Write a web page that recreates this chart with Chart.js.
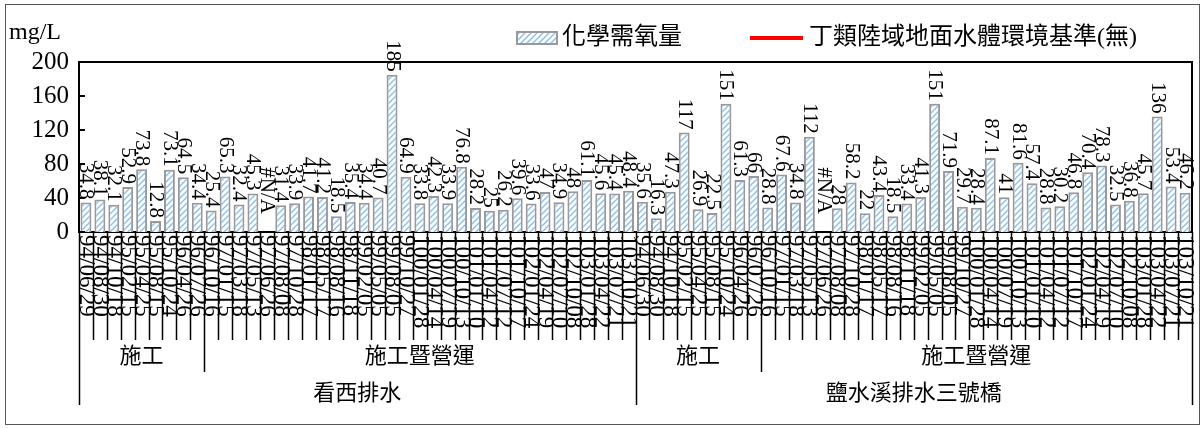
<!DOCTYPE html>
<html>
<head>
<meta charset="utf-8">
<script src="https://cdn.jsdelivr.net/npm/chart.js@4.4.0/dist/chart.umd.min.js"></script>
<style>
  html, body { margin: 0; padding: 0; background: #fff; }
</style>
</head>
<body>
<canvas id="chart" width="1204" height="428"></canvas>
<script>
// sampling dates (ROC calendar), one list per station
const datesKanxi = [
  '94/06/29', '94/08/30', '94/10/18', '95/02/15', '95/04/25', '95/08/15', '95/10/24', '96/04/26', '96/07/26',
  '96/10/16', '97/01/15', '97/03/18', '97/05/13', '97/06/26', '97/08/08', '97/10/28', '98/01/17', '98/05/17',
  '98/08/16', '98/11/18', '99/02/05', '99/05/05', '99/08/05', '99/10/27', '100/01/28', '100/04/14', '100/07/19',
  '100/10/13', '101/01/10', '101/04/12', '101/07/12', '101/10/17', '102/01/24', '102/04/19', '102/07/10',
  '102/10/08', '103/01/28', '103/04/22', '103/07/21', '103/10/21'
];
const datesYanshui = [
  '94/06/30', '94/08/30', '94/10/18', '95/02/15', '95/04/25', '95/08/15', '95/10/24', '96/04/26', '96/07/26',
  '96/10/16', '97/01/15', '97/03/18', '97/05/13', '97/06/26', '97/08/08', '97/10/28', '98/01/17', '98/05/17',
  '98/08/16', '98/11/18', '99/02/05', '99/05/05', '99/08/05', '99/10/27', '100/01/28', '100/04/14', '100/07/19',
  '100/10/13', '101/01/10', '101/04/12', '101/07/12', '101/10/17', '102/01/24', '102/04/19', '102/07/10',
  '102/10/08', '103/01/28', '103/04/22', '103/07/21', '103/10/21'
];
const sites = ['看西排水', '鹽水溪排水三號橋'];
const phases = ['施工', '施工暨營運'];
const phaseCounts = [9, 31];

// COD (mg/L), null = #N/A
const codKanxi = [
  34.8, 38.1, 32.1, 52.9, 73.8, 12.8, 73.1, 64.5, 34.4,
  25.4, 65.3, 32.4, 45.3, null, 31.4, 33.9, 41.7, 41.2, 18.5, 35.4, 34.4, 40.7, 185, 64.9, 33.8,
  42.3, 33.9, 76.8, 28.2, 25, 26.2, 39.6, 33.6, 47, 34.9, 48, 61.1, 45.6, 45.4, 48.4
];
const codYanshui = [
  35.6, 16.3, 47.3, 117, 26.9, 22.5, 151, 61.3, 66,
  28.8, 67.6, 34.8, 112, null, 28, 58.2, 22, 43.4, 18.5, 33.4, 41.3, 151, 71.9, 29.7, 28.4,
  87.1, 41, 81.6, 57.4, 28.8, 30.2, 46.8, 70.4, 78.3, 32.5, 36.8, 45.7, 136, 53.4, 46.2
];
const standard = new Array(80).fill(null); // 丁類標準: 無

const yMin = 0, yMax = 200, yStep = 40;

const labels = datesKanxi.concat(datesYanshui);
const cod = codKanxi.concat(codYanshui);

const SERIF = "'Liberation Serif', 'Times New Roman', 'Noto Sans CJK TC', serif";

const ctx = document.getElementById('chart').getContext('2d');

function makeHatch() {
  const c = document.createElement('canvas');
  c.width = 6; c.height = 6;
  const g = c.getContext('2d');
  g.fillStyle = '#fff';
  g.fillRect(0, 0, 6, 6);
  g.strokeStyle = '#86bff0';
  g.lineWidth = 1.4;
  g.beginPath();
  g.moveTo(0, 6); g.lineTo(6, 0);
  g.moveTo(-3, 3); g.lineTo(3, -3);
  g.moveTo(3, 9); g.lineTo(9, 3);
  g.stroke();
  return ctx.createPattern(c, 'repeat');
}
const hatch = makeHatch();

// value labels, rotated, above each bar
const valueLabels = {
  id: 'valueLabels',
  afterDatasetsDraw(chart) {
    const c = chart.ctx;
    const meta = chart.getDatasetMeta(0);
    const y = chart.scales.y;
    c.save();
    c.font = '21px ' + SERIF;
    c.fillStyle = '#000';
    c.textAlign = 'right';
    c.textBaseline = 'middle';
    meta.data.forEach((el, i) => {
      const v = chart.data.datasets[0].data[i];
      const txt = v === null ? '#N/A' : String(v);
      const top = v === null ? y.getPixelForValue(0) - 18 : el.y - 3;
      c.save();
      c.translate(el.x, top);
      c.rotate(Math.PI / 2);
      c.fillText(txt, 0, 0);
      c.restore();
    });
    c.restore();
  }
};

// multi-level category axis, frames, inward y ticks
const frame = {
  id: 'frame',
  afterDraw(chart) {
    const c = chart.ctx;
    const a = chart.chartArea;
    const x = chart.scales.x;
    const y = chart.scales.y;
    const n = chart.data.labels.length;
    const pitch = x.getPixelForValue(1) - x.getPixelForValue(0);
    const edge = i => x.getPixelForValue(i) - pitch / 2;
    const row1 = a.bottom + 108, row2 = a.bottom + 140, row3 = a.bottom + 173;

    c.save();
    c.strokeStyle = '#000';
    c.lineWidth = 2;
    c.beginPath();
    c.moveTo(a.left, a.top); c.lineTo(a.right, a.top); c.lineTo(a.right, a.bottom);
    c.stroke();

    // inward ticks on y
    for (let v = yMin; v <= yMax; v += yStep) {
      const py = Math.round(y.getPixelForValue(v));
      c.beginPath();
      c.moveTo(a.left, py); c.lineTo(a.left + 6, py);
      c.stroke();
    }

    // category separators
    const phaseEdges = [0, phaseCounts[0], 40, 40 + phaseCounts[0], 80];
    const siteEdges = [0, 40, 80];
    c.lineWidth = 1.5;
    for (let i = 0; i <= n; i++) {
      const px = Math.round(edge(i)) + 0.5;
      let bottom = row1;
      if (phaseEdges.includes(i)) bottom = row2;
      if (siteEdges.includes(i)) bottom = row3;
      c.beginPath();
      c.moveTo(px, a.bottom); c.lineTo(px, bottom);
      c.stroke();
    }

    // date labels
    c.fillStyle = '#000';
    c.font = '23px ' + SERIF;
    c.textAlign = 'left';
    c.textBaseline = 'middle';
    chart.data.labels.forEach((lab, i) => {
      c.save();
      c.translate(x.getPixelForValue(i), a.bottom + 3);
      c.rotate(Math.PI / 2);
      c.fillText(lab, 0, 0);
      c.restore();
    });

    // phase and site labels
    c.font = '22px ' + SERIF;
    c.textAlign = 'center';
    for (let s = 0; s < sites.length; s++) {
      let start = s * 40;
      for (let p = 0; p < phases.length; p++) {
        const end = start + phaseCounts[p];
        c.fillText(phases[p], (edge(start) + edge(end)) / 2, (row1 + row2) / 2 + 1);
        start = end;
      }
      c.fillText(sites[s], (edge(s * 40) + edge(s * 40 + 40)) / 2, (row2 + row3) / 2 + 6);
    }

    // unit
    c.textAlign = 'left';
    c.font = '24px ' + SERIF;
    c.fillText('mg/L', 9, 33);

    // legend
    const ds = chart.data.datasets;
    const ly = 38;
    let lx = 517;
    c.fillStyle = ds[0].backgroundColor;
    c.fillRect(lx, ly - 6, 40, 12);
    c.strokeStyle = ds[0].borderColor;
    c.lineWidth = 2;
    c.strokeRect(lx, ly - 6, 40, 12);
    c.fillStyle = '#000';
    c.font = '24px ' + SERIF;
    c.fillText(ds[0].label, lx + 45, ly);
    lx += 45 + c.measureText(ds[0].label).width + 68;
    c.strokeStyle = ds[1].borderColor;
    c.lineWidth = 4;
    c.beginPath();
    c.moveTo(lx, ly); c.lineTo(lx + 53, ly);
    c.stroke();
    c.fillText(ds[1].label, lx + 59, ly);

    // outer border
    c.strokeStyle = '#555';
    c.lineWidth = 1;
    c.strokeRect(5.5, 4.5, 1194, 420);
    c.restore();
  }
};

new Chart(ctx, {
  type: 'bar',
  data: {
    labels: labels,
    datasets: [
      {
        label: '化學需氧量',
        data: cod,
        backgroundColor: hatch,
        borderColor: '#999',
        borderWidth: 2,
        categoryPercentage: 0.8,
        barPercentage: 0.98
      },
      {
        type: 'line',
        label: '丁類陸域地面水體環境基準(無)',
        data: standard,
        borderColor: '#ff0000',
        backgroundColor: '#ff0000',
        borderWidth: 3,
        pointRadius: 0
      }
    ]
  },
  options: {
    responsive: false,
    animation: false,
    events: [],
    layout: { padding: { top: 62, right: 12, left: 0, bottom: 0 } },
    plugins: { legend: { display: false }, tooltip: { enabled: false } },
    scales: {
      x: {
        grid: { display: false, drawTicks: false },
        ticks: { display: false },
        border: { color: '#000', width: 2 },
        afterFit(s) { s.height = 196; }
      },
      y: {
        min: yMin,
        max: yMax,
        ticks: { stepSize: yStep, autoSkip: false, color: '#000', padding: 10, font: { family: SERIF, size: 25 } },
        grid: { display: false, drawTicks: false },
        border: { color: '#000', width: 2 },
        afterFit(s) { s.width = 79; }
      }
    }
  },
  plugins: [valueLabels, frame]
});
</script>
</body>
</html>
